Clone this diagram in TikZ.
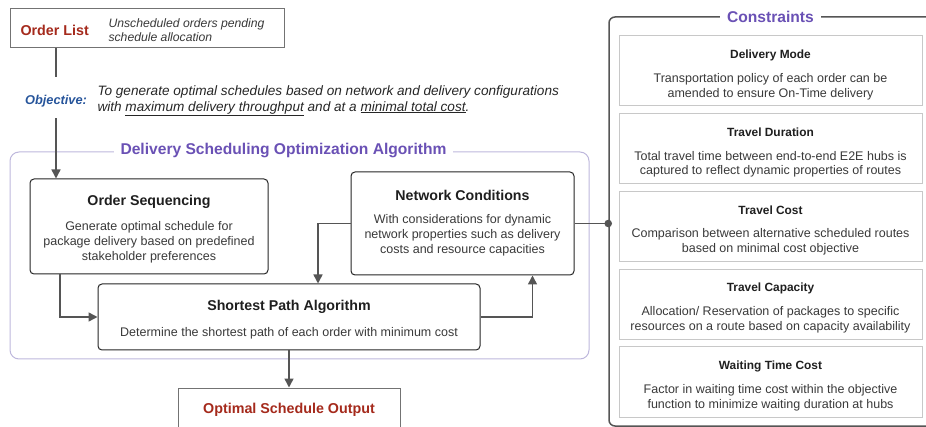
\documentclass[tikz,border=0pt]{standalone}
\usepackage{fontspec}
\setmainfont{Liberation Sans}
\usetikzlibrary{calc, positioning, arrows.meta}

\definecolor{listred}{HTML}{A52A1C}
\definecolor{algpurple}{HTML}{6A51B5}
\definecolor{objblue}{HTML}{27559B}
\definecolor{linegray}{HTML}{555555}
\definecolor{boxgray}{HTML}{C8C8C8}
\definecolor{textgray}{HTML}{3A3A3A}
\definecolor{framepurple}{HTML}{BDB7DC}

\begin{document}
\begin{tikzpicture}[x=1pt, y=-1pt,
  algbox/.style={draw=black!85, line width=1pt, rounded corners=4pt, fill=white, inner sep=0pt},
  plainbox/.style={draw=black!55, line width=1pt, fill=white, inner sep=0pt},
  conbox/.style={draw=boxgray, line width=1pt, fill=white, inner sep=0pt, minimum width=303, minimum height=70},
  boxtitle/.style={font=\fontsize{14.2}{16}\selectfont\bfseries, text=black!88},
  contitle/.style={font=\fontsize{11.9}{14}\selectfont\bfseries, text=black!88},
  desc/.style={align=center, font=\fontsize{12.5}{14.8}\selectfont, text=textgray},
  frametitle/.style={font=\fontsize{15.6}{18}\selectfont\bfseries, text=algpurple, fill=white, inner xsep=7pt},
  flow/.style={draw=linegray, line width=1.5pt, -{Triangle[length=9pt,width=9pt]}},
  wire/.style={draw=linegray, line width=1.5pt}]

\useasboundingbox (0,0) rectangle (926,427);
\clip (0,0) rectangle (926,427);

% order list
\node[plainbox, minimum width=274, minimum height=39] (olist) at (147,28.5) {};
\node[anchor=west, font=\fontsize{14.3}{16}\selectfont\bfseries, text=listred] (olisttitle) at (17,30) {Order List};
\node[anchor=west, align=left, font=\fontsize{12.2}{14.5}\selectfont\itshape, text=textgray] (olistdesc) at (105,30) {Unscheduled orders pending\\schedule allocation};

% objective
\node[font=\fontsize{12.8}{15}\selectfont\bfseries\itshape, text=objblue] (objlabel) at (56,101) {Objective:};
\node[anchor=west, align=left, font=\fontsize{13.6}{16}\selectfont\itshape, text=black!85] (objtext) at (94,100.5)
  {To generate optimal schedules based on network and delivery configurations\\with \underline{maximum delivery throughput} and at a \underline{minimal total cost}.};

% algorithm frame
\node[draw=framepurple, line width=1pt, rounded corners=9pt, minimum width=579, minimum height=207, inner sep=0pt] (algframe) at (299.5,255.5) {};
\node[frametitle] (algtitle) at (283.5,151) {Delivery Scheduling Optimization Algorithm};

\node[algbox, minimum width=238, minimum height=95] (seq) at (149,226.5) {};
\node[boxtitle] (seqtitle) at (149,202) {Order Sequencing};
\node[desc] (seqdesc) at (149,242.5) {Generate optimal schedule for\\package delivery based on predefined\\stakeholder preferences};

\node[algbox, minimum width=223, minimum height=103] (netc) at (462.5,223.5) {};
\node[boxtitle] (netctitle) at (462.5,195) {Network Conditions};
\node[desc] (netcdesc) at (462.5,235.5) {With considerations for dynamic\\network properties such as delivery\\costs and resource capacities};

\node[algbox, minimum width=382, minimum height=66] (spa) at (289,317) {};
\node[boxtitle] (spatitle) at (289,307) {Shortest Path Algorithm};
\node[desc] (spadesc) at (289,333) {Determine the shortest path of each order with minimum cost};

% output
\node[plainbox, minimum width=222, minimum height=56] (output) at (289,416) {};
\node[font=\fontsize{14.3}{16}\selectfont\bfseries, text=listred] (outputtitle) at (289,410) {Optimal Schedule Output};

% flow
\draw[wire] (olist.south -| objlabel) -- ([yshift=14pt]objlabel.north);
\draw[flow] ([yshift=-8pt]objlabel.south) -- (seq.north -| objlabel);
\draw[flow] ([xshift=-89pt]seq.south) |- (spa.west);
\draw[flow] (netc.west) -| ([xshift=29pt]spa.north);
\draw[flow] (spa.east) -| ([xshift=70pt]netc.south);
\draw[flow] (spa.south) -- (output.north);

% constraints
\node[draw=linegray, line width=1.5pt, rounded corners=6pt, minimum width=336, minimum height=409, inner sep=0pt] (conframe) at (777,221.5) {};
\node[frametitle] (contitle) at (770.5,17) {Constraints};

\foreach \name/\title/\desc [count=\i from 0] in {
  mode/Delivery Mode/{Transportation policy of each order can be\\amended to ensure On-Time delivery},
  duration/Travel Duration/{Total travel time between end-to-end E2E hubs is\\captured to reflect dynamic properties of routes},
  cost/Travel Cost/{Comparison between alternative scheduled routes\\based on minimal cost objective},
  capacity/Travel Capacity/{Allocation/ Reservation of packages to specific\\resources on a route based on capacity availability},
  waiting/Waiting Time Cost/{Factor in waiting time cost within the objective\\function to minimize waiting duration at hubs}}
{
  \node[conbox] (\name) at (770.5,71+77.75*\i) {};
  \node[contitle] (\name-title) at (770.5,55+77.75*\i) {\title};
  \node[desc] (\name-desc) at (770.5,86.5+77.75*\i) {\desc};
}

\coordinate (dot) at (conframe.west |- netc.east);
\draw[wire] (netc.east) -- (dot);
\fill[linegray] (dot) circle (3.8);

\end{tikzpicture}
\end{document}
